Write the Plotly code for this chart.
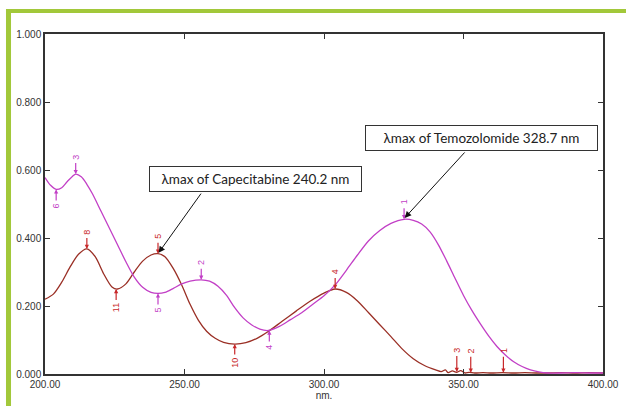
import plotly.graph_objects as go

# ---------------- data ----------------
cape_nm = [200, 203, 206, 209, 212, 215, 218, 221, 224, 226, 229, 232, 235, 238, 240.5, 243, 246, 249,
           252, 255, 258, 261, 264, 268, 272, 276, 280, 285, 290, 295, 300, 304, 308, 312, 316, 320,
           324, 328, 332, 336, 340, 342, 343.5, 344.5, 346, 347.5, 349, 350.5, 352, 354, 357, 360,
           364, 368, 372, 376, 380, 385, 390, 395, 400]
cape_abs = [0.220, 0.235, 0.270, 0.315, 0.352, 0.368, 0.345, 0.295, 0.256, 0.250, 0.265, 0.300, 0.332,
            0.350, 0.354, 0.345, 0.310, 0.262, 0.205, 0.158, 0.125, 0.105, 0.093, 0.088, 0.092, 0.105,
            0.125, 0.155, 0.185, 0.214, 0.238, 0.250, 0.240, 0.215, 0.180, 0.145, 0.110, 0.074, 0.045,
            0.025, 0.012, 0.007, 0.012, 0.004, 0.009, 0.005, 0.010, 0.003, 0.005, 0.003, 0.004, 0.003,
            0.004, 0.003, 0.004, 0.003, 0.003, 0.004, 0.003, 0.004, 0.003]

temo_nm = [200, 202, 204, 206, 208, 211, 213, 215, 217, 220, 223, 226, 229, 232, 235, 238, 240.5, 243,
           246, 249, 252, 256, 259, 262, 265, 268, 271, 274, 277, 280, 284, 288, 292, 296, 300, 304,
           308, 312, 316, 320, 324, 328.7, 332, 335, 338, 341, 344, 347, 350, 353, 356, 359, 362, 365,
           368, 371, 374, 377, 380, 385, 390, 395, 400]
temo_abs = [0.578, 0.555, 0.543, 0.548, 0.566, 0.588, 0.580, 0.558, 0.530, 0.480, 0.430, 0.380, 0.330,
            0.285, 0.255, 0.240, 0.237, 0.240, 0.252, 0.265, 0.273, 0.277, 0.273, 0.258, 0.232, 0.195,
            0.165, 0.145, 0.132, 0.128, 0.140, 0.160, 0.180, 0.205, 0.230, 0.262, 0.305, 0.350, 0.392,
            0.422, 0.443, 0.455, 0.452, 0.441, 0.418, 0.380, 0.332, 0.281, 0.231, 0.187, 0.148, 0.112,
            0.081, 0.056, 0.036, 0.022, 0.012, 0.006, 0.003, 0.003, 0.004, 0.003, 0.003]

# peak / valley picks: (nm, abs, label, kind)
cape_picks = [(215, 0.368, "8", "peak"), (225.5, 0.250, "11", "valley"), (240.5, 0.354, "5", "peak"),
              (268, 0.088, "10", "valley"), (304, 0.250, "4", "peak"), (347.6, 0.006, "3", "peak"),
              (352.6, 0.004, "2", "peak"), (364.3, 0.004, "1", "peak")]
temo_picks = [(204, 0.543, "6", "valley"), (211, 0.588, "3", "peak"), (240.5, 0.237, "5", "valley"),
              (256, 0.277, "2", "peak"), (280.4, 0.128, "4", "valley"), (328.7, 0.455, "1", "peak")]

x_ticks = [200, 250, 300, 350, 400]
y_ticks = [0, 0.2, 0.4, 0.6, 0.8, 1.0]

cape_label = "λmax of Capecitabine 240.2 nm"
temo_label = "λmax of Temozolomide 328.7 nm"

# ---------------- styles ----------------
CAPE_LINE = "#9a2f25"
CAPE_MARK = "#c8282a"
TEMO_LINE = "#c23fc6"
TEMO_MARK = "#c23fc6"
GREEN = "#a2c83a"

fig = go.Figure()
fig.add_trace(go.Scatter(x=cape_nm, y=cape_abs, mode="lines",
                         line=dict(color=CAPE_LINE, width=1.3, shape="spline", smoothing=0.8),
                         showlegend=False, hoverinfo="skip"))
fig.add_trace(go.Scatter(x=temo_nm, y=temo_abs, mode="lines",
                         line=dict(color=TEMO_LINE, width=1.3, shape="spline", smoothing=0.8),
                         showlegend=False, hoverinfo="skip"))

annotations = []
for picks, col in ((cape_picks, CAPE_MARK), (temo_picks, TEMO_MARK)):
    for nm, a, lab, kind in picks:
        low = nm > 340
        if kind == "peak":
            ay = -22 if low else -17
        else:
            ay = 19 if len(lab) > 1 else 17
        annotations.append(dict(x=nm, y=a, xref="x", yref="y", text=lab, textangle=-90,
                                font=dict(size=9, color=col, family="Liberation Sans"),
                                showarrow=True, arrowhead=2, arrowsize=0.7, arrowwidth=1.2,
                                arrowcolor=col, ax=0, ay=ay, standoff=0, startstandoff=2))

# callout boxes
cape_box_x, cape_box_y = 275.4, 0.574
temo_box_x, temo_box_y = 356.3, 0.694
for bx, by, txt, w in ((cape_box_x, cape_box_y, cape_label, 211), (temo_box_x, temo_box_y, temo_label, 231)):
    annotations.append(dict(x=bx, y=by, xref="x", yref="y", text=txt, showarrow=False,
                            font=dict(size=13.5, color="#222", family="Lato"),
                            bordercolor="#333", borderwidth=1, bgcolor="white", borderpad=0,
                            width=w, height=24, align="center"))

# callout arrows (tail on box edge, head on λmax)
cape_tail = (256.3, 0.535)
temo_tail = (350.9, 0.656)
annotations.append(dict(x=240.5, y=0.354, xref="x", yref="y", ax=cape_tail[0], ay=cape_tail[1],
                        axref="x", ayref="y", text="", showarrow=True, arrowhead=2, arrowsize=1.3,
                        arrowwidth=1, arrowcolor="#111", standoff=1))
annotations.append(dict(x=328.7, y=0.457, xref="x", yref="y", ax=temo_tail[0], ay=temo_tail[1],
                        axref="x", ayref="y", text="", showarrow=True, arrowhead=2, arrowsize=1.3,
                        arrowwidth=1, arrowcolor="#111", standoff=1))

# green frame (top and left bars)
shapes = [
    dict(type="rect", xref="paper", yref="paper", x0=-0.0699, x1=1.05, y0=1.0618, y1=1.0735,
         fillcolor=GREEN, line=dict(width=0), layer="below"),
    dict(type="rect", xref="paper", yref="paper", x0=-0.0699, x1=-0.0609, y0=-0.2, y1=1.0735,
         fillcolor=GREEN, line=dict(width=0), layer="below"),
]

axis_common = dict(showgrid=False, zeroline=False, showline=True, linecolor="#333", linewidth=1.5,
                   mirror="ticks", ticks="inside", ticklen=5, tickwidth=1, tickcolor="#333",
                   automargin=False,
                   tickfont=dict(size=10, color="#333", family="Liberation Sans"))

fig.update_layout(
    width=626, height=406,
    margin=dict(l=45, r=23, t=34, b=32, pad=0),
    paper_bgcolor="white", plot_bgcolor="white",
    xaxis=dict(range=[200, 400], tickvals=x_ticks, tickformat=".2f",
               title=dict(text="nm.", font=dict(size=10, color="#333", family="Liberation Sans"),
                          standoff=2),
               **axis_common),
    yaxis=dict(range=[0, 1], tickvals=y_ticks, tickformat=".3f", **axis_common),
    annotations=annotations,
    shapes=shapes,
)

fig.write_html("out.html", config={"displayModeBar": False},
               post_script="document.body.style.margin='0';document.body.style.overflow='hidden';")
